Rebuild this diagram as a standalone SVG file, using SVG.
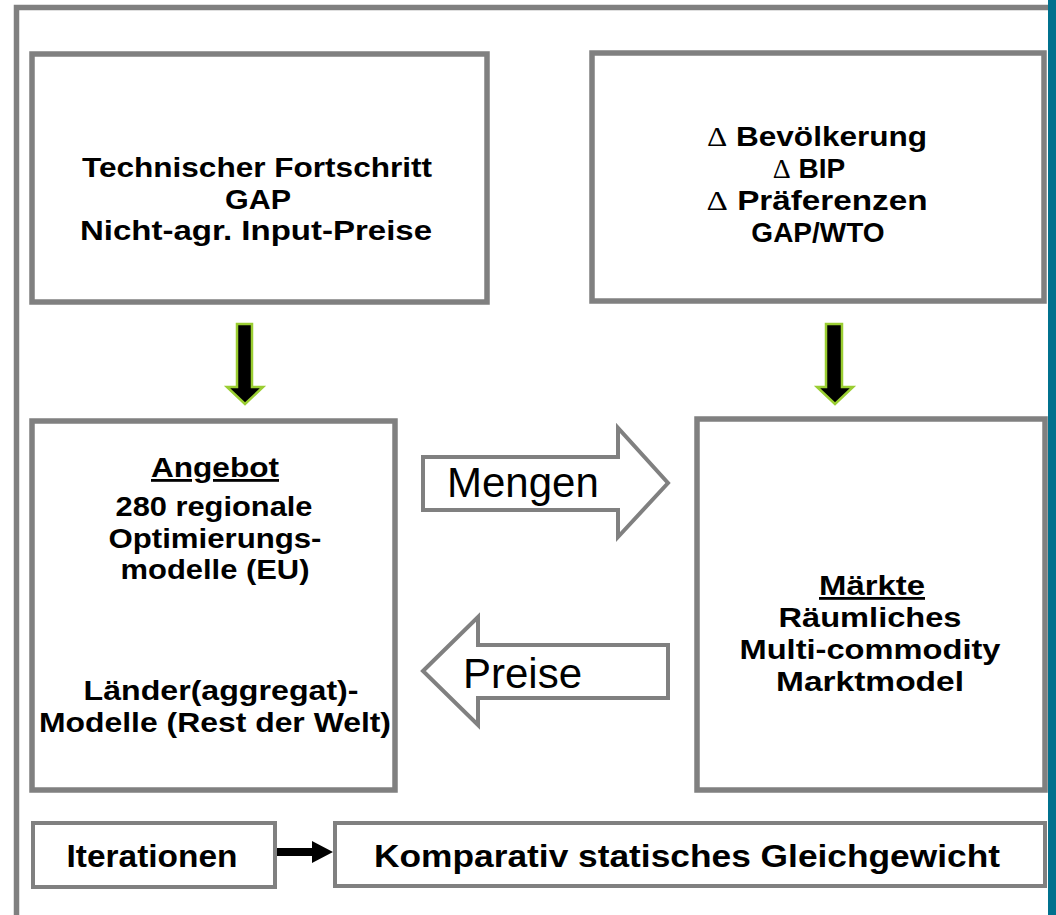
<svg xmlns="http://www.w3.org/2000/svg" width="1056" height="915" viewBox="0 0 1056 915">
<style>
.box{fill:#fff;stroke:#808080;stroke-width:5.5}
.sbox{fill:#fff;stroke:#808080;stroke-width:4}
.t{font-family:"Liberation Sans",Arial,sans-serif;font-weight:bold;font-size:28px;fill:#000;text-anchor:middle}
.b{font-size:32px}
.d{font-family:"Liberation Serif","Times New Roman",serif;font-weight:normal}
.big{font-family:"Liberation Sans",Arial,sans-serif;font-size:42px;fill:#000}
.blk{fill:#000;stroke:#9ACD32;stroke-width:2.5;stroke-linejoin:miter}
.blockarrow{fill:#fff;stroke:#808080;stroke-width:4;stroke-linejoin:miter}
</style>
<rect x="0" y="0" width="1056" height="915" fill="#fff"/>
<rect id="frame" x="16.5" y="7.5" width="1040" height="1000" fill="none" stroke="#808080" stroke-width="5.5"/>
<rect id="tealbar" x="1048" y="0" width="8" height="915" fill="#00718E"/>

<g id="n-technik">
<rect class="box" x="32" y="54" width="455" height="248"/>
<text class="t" x="257" y="177" textLength="350" lengthAdjust="spacingAndGlyphs">Technischer Fortschritt</text>
<text class="t" x="258" y="208.5" textLength="66" lengthAdjust="spacingAndGlyphs">GAP</text>
<text class="t" x="256" y="240" textLength="352" lengthAdjust="spacingAndGlyphs">Nicht-agr. Input-Preise</text>
</g>

<g id="n-nachfrage">
<rect class="box" x="592" y="53" width="452" height="248"/>
<text class="t" x="817" y="146" textLength="220" lengthAdjust="spacingAndGlyphs"><tspan class="d">Δ</tspan> Bevölkerung</text>
<text class="t" x="809" y="178"><tspan class="d">Δ</tspan> BIP</text>
<text class="t" x="817" y="210" textLength="221" lengthAdjust="spacingAndGlyphs"><tspan class="d">Δ</tspan> Präferenzen</text>
<text class="t" x="818" y="242">GAP/WTO</text>
</g>

<g id="n-angebot">
<rect class="box" x="32" y="421" width="363" height="369"/>
<text class="t" x="215" y="477" text-decoration="underline" textLength="128" lengthAdjust="spacingAndGlyphs">Angebot</text>
<text class="t" x="214" y="516" textLength="197" lengthAdjust="spacingAndGlyphs">280 regionale</text>
<text class="t" x="215" y="547.5" textLength="213" lengthAdjust="spacingAndGlyphs">Optimierungs-</text>
<text class="t" x="215" y="579" textLength="189" lengthAdjust="spacingAndGlyphs">modelle (EU)</text>
<text class="t" x="221" y="700" textLength="275" lengthAdjust="spacingAndGlyphs">Länder(aggregat)-</text>
<text class="t" x="215" y="731.5" textLength="352" lengthAdjust="spacingAndGlyphs">Modelle (Rest der Welt)</text>
</g>

<g id="n-maerkte">
<rect class="box" x="697" y="419" width="348" height="371"/>
<text class="t" x="872" y="595" text-decoration="underline" textLength="106" lengthAdjust="spacingAndGlyphs">Märkte</text>
<text class="t" x="870" y="627" textLength="183" lengthAdjust="spacingAndGlyphs">Räumliches</text>
<text class="t" x="870" y="659" textLength="261" lengthAdjust="spacingAndGlyphs">Multi-commodity</text>
<text class="t" x="870" y="690.5" textLength="188" lengthAdjust="spacingAndGlyphs">Marktmodel</text>
</g>

<g id="n-iterationen">
<rect class="sbox" x="33" y="823" width="242" height="64"/>
<text class="t b" x="152" y="867" textLength="171" lengthAdjust="spacingAndGlyphs">Iterationen</text>
</g>

<g id="n-gleichgewicht">
<rect class="sbox" x="335" y="823" width="710" height="63"/>
<text class="t b" x="687" y="867" textLength="626" lengthAdjust="spacingAndGlyphs">Komparativ statisches Gleichgewicht</text>
</g>

<g id="connectors">
<polygon class="blk" points="237,324 252,324 252,387 263,387 245,404 227,387 237,387"/>
<polygon class="blk" points="826,324 842,324 842,387 853,387 835,404 817,387 826,387"/>
<g id="c-mengen">
<polygon class="blockarrow" points="423,457 618,457 618,428 668,483 618,537 618,510 423,510"/>
<text class="big" x="447" y="497">Mengen</text>
</g>
<g id="c-preise">
<polygon class="blockarrow" points="423,671 478,617 478,645 668,645 668,698 478,698 478,725"/>
<text class="big" x="463" y="688">Preise</text>
</g>
<polygon fill="#000" points="277,848 312,848 312,841 333,852 312,863 312,856 277,856"/>
</g>
</svg>
